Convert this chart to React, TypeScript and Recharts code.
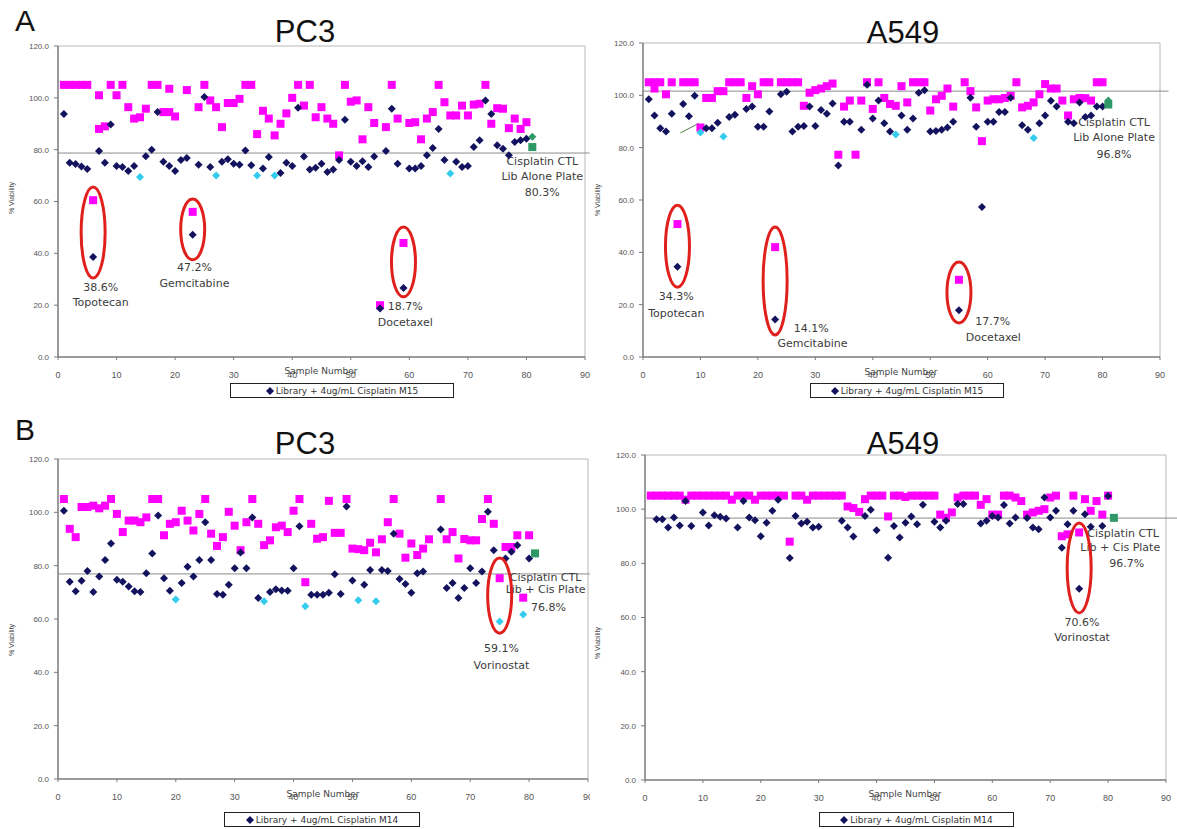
import React from 'react';
import { ScatterChart, Scatter, XAxis, YAxis, ReferenceLine } from 'recharts';

type Pt = [number, number];
type Note = [number, number, string];
type Ell = [number, number, number];

const xTicks = [0, 10, 20, 30, 40, 50, 60, 70, 80, 90];
const yTicks = [0, 20, 40, 60, 80, 100, 120];

// ---------- Panel A : PC3 ----------
const aPc3Library: Pt[] = [[1,105],[2,105],[3,105],[4,105],[5,105],[6,60.5],[7,101],[7,88],[8,89],[9,105],[10,101],[11,105],[12,96.4],[13,92],[14,92.5],[15,95.8],[16,105],[17,105],[18,94.5],[19,94.5],[19,103.5],[20,92.8],[22,103],[23,56],[24,96.4],[25,105],[26,99],[27,96.4],[28,88.7],[29,98],[30,98],[31,99.6],[32,105],[33,105],[34,86],[35,95],[36,92],[37,85.5],[38,90],[39,94],[40,100],[41,105],[42,97],[43,105],[44,92.5],[45,96.4],[46,92],[47,90],[48,77.8],[49,105],[50,98.5],[51,99],[52,84],[53,96.4],[54,90.3],[55,20],[56,88.7],[57,105],[58,92],[59,44],[60,90.3],[61,90.6],[62,84],[63,92],[64,94.5],[65,105],[66,98.3],[67,93.2],[68,93.2],[69,97],[70,93.2],[71,97.4],[72,97.7],[73,105],[74,90],[75,96],[76,95.8],[77,88.3],[78,92],[79,88],[80,90.6]];
const aPc3Cis: Pt[] = [[1,93.8],[2,75],[3,74.5],[4,73.5],[5,72.5],[6,38.6],[7,79.5],[8,75],[9,89.7],[10,73.7],[11,73.3],[12,71.8],[13,73.7],[15,77.5],[16,80],[17,94.5],[18,75.3],[19,73.7],[20,71.8],[21,76],[22,76.8],[23,47.2],[24,74.2],[25,100.3],[26,73.3],[28,75.3],[29,76.3],[30,74.6],[31,74.2],[32,79.7],[33,74],[35,72.7],[36,77.2],[38,71],[39,75],[40,73.7],[41,96.2],[42,77.4],[43,72.3],[44,73],[45,74.6],[46,71.4],[47,72.3],[48,76],[49,91.5],[50,75.3],[51,73.7],[52,75.5],[53,73.3],[54,77.4],[55,18.7],[56,79.5],[57,95.8],[58,74.6],[59,26.6],[60,72.7],[61,72.7],[62,73.7],[63,77.8],[64,80.6],[65,88],[66,76],[68,75.3],[69,73.3],[70,73.7],[71,81],[72,83.6],[73,99],[74,93.8],[75,81.7],[76,80.4],[77,77.8],[78,83],[79,83.6],[80,84.2]];
const aPc3Low: Pt[] = [[14,69.5],[27,70],[34,70],[37,70],[67,70.8]];
const aPc3CtlSq: Pt[] = [[81,81]];
const aPc3CtlDia: Pt[] = [[81,85]];
const aPc3Ell: Ell[] = [[6,30.5,65.6],[23,37.5,61],[59,23.2,50.2]];
const aPc3Notes: Note[] = [[7.3,27,'38.6%'],[7.3,21,'Topotecan'],[23.3,34.7,'47.2%'],[23.3,28.2,'Gemcitabine'],[59.3,19.3,'18.7%'],[59.3,13.5,'Docetaxel'],[82.7,75.5,'Cisplatin CTL'],[82.7,69.6,'Lib Alone Plate'],[82.7,63.4,'80.3%']];
const aPc3Ref = 78.7;

// ---------- Panel A : A549 ----------
const aA549Library: Pt[] = [[1,105],[2,105],[2,102.6],[3,105],[4,100.4],[5,105],[6,50.8],[7,105],[8,105],[9,105],[10,87.7],[11,99],[12,99],[13,101.6],[14,101.6],[15,105],[16,105],[17,105],[18,99],[19,103.5],[20,100.4],[21,105],[22,105],[23,42],[24,105],[25,105],[26,105],[27,105],[28,96],[29,101],[30,102],[31,102.6],[32,103.5],[33,104.5],[34,77.3],[35,95.7],[36,98],[37,77.3],[38,98],[39,105],[40,94.8],[41,105],[42,99],[43,96.7],[44,96],[45,103.5],[46,97.3],[47,105],[48,105],[49,105],[50,94.2],[51,98.5],[52,99.8],[53,102.6],[54,95.7],[55,29.5],[56,105],[57,101.6],[58,95.4],[59,82.5],[60,98],[61,98.5],[62,98.5],[63,99],[64,99.8],[65,105],[66,95.4],[67,96],[68,97.3],[69,100.4],[70,104.3],[71,102.6],[72,102.6],[73,98],[74,92.3],[75,98.5],[76,99],[77,98.9],[78,98],[79,105],[80,105]];
const aA549Cis: Pt[] = [[1,98.5],[2,92.3],[3,87.4],[4,86.2],[5,93],[6,34.5],[7,96.7],[8,92],[9,99.8],[11,87.4],[12,87.4],[13,89.5],[15,91.7],[16,92.6],[18,94.8],[19,95.7],[20,88],[21,88],[22,93.8],[23,14.3],[24,100.4],[25,101.4],[26,86.2],[27,88],[28,88.3],[29,95.7],[30,88.3],[31,94.4],[32,93],[33,96.9],[34,73.2],[35,89.9],[36,89.9],[38,86.8],[39,104],[40,91.1],[41,98],[42,89.3],[43,86.2],[45,92.3],[46,86.8],[47,91.1],[48,101],[49,101.9],[50,86.2],[51,86.4],[52,86.8],[53,87.7],[54,89.9],[55,17.9],[57,99.1],[58,88],[59,57.3],[60,89.9],[61,89.9],[62,93.6],[63,93.6],[64,99.1],[66,88.6],[67,86.8],[69,89.3],[70,92.3],[71,97.9],[72,95.7],[74,89.9],[75,89.3],[76,97.3],[77,91.7],[78,92.3],[79,95.7],[80,95.7]];
const aA549Low: Pt[] = [[10,85.8],[14,84.3],[44,85],[68,83.7]];
const aA549CtlSq: Pt[] = [[81,96.5]];
const aA549CtlDia: Pt[] = [[81,98]];
const aA549Ell: Ell[] = [[6,26.7,58],[23,8.4,49.7],[55,13,36.3]];
const aA549Notes: Note[] = [[5.8,23,'34.3%'],[5.8,16.8,'Topotecan'],[29.3,11,'14.1%'],[29.5,5,'Gemcitabine'],[60.9,13.4,'17.7%'],[61,7.6,'Docetaxel'],[82,89.8,'Cisplatin CTL'],[82,84,'Lib Alone Plate'],[82,77.5,'96.8%']];
const aA549Ref = 101.6;
const aA549Leader: Pt[] = [[6.5,85.6],[9.7,89.3]];

// ---------- Panel B : PC3 ----------
const bPc3Library: Pt[] = [[1,105],[2,93.8],[3,90.7],[4,102],[5,102],[6,102.5],[7,101.5],[8,102.5],[9,105],[10,99.4],[11,92.6],[12,96.9],[13,96.9],[14,96.3],[15,98.1],[16,105],[17,105],[18,91.4],[19,95.7],[20,96.3],[21,100.6],[22,96.9],[23,93.2],[24,99.4],[25,105],[26,92],[27,87.4],[28,90.7],[29,100.2],[30,95],[31,85.8],[32,96.3],[33,105],[34,95.7],[35,87.7],[36,89.5],[37,94.4],[38,95],[39,92.6],[40,100.6],[41,105],[42,73.8],[43,95.7],[44,90.1],[45,90.7],[46,104.3],[47,92.3],[48,92.3],[49,105],[50,86.4],[51,86.2],[52,85.8],[53,88.6],[54,85],[55,89.9],[56,96.3],[57,105],[58,92],[59,83],[60,88.3],[61,84],[62,86.4],[63,89.9],[65,105],[66,89.9],[67,92.6],[68,82.7],[69,90],[70,89.5],[71,89.5],[72,97.5],[73,105],[74,95.7],[75,75.3],[76,87],[77,87],[78,91.4],[79,68],[80,91.4]];
const bPc3Cis: Pt[] = [[1,100.6],[2,74],[3,70.4],[4,74.3],[5,78],[6,70.1],[7,75.9],[8,82.1],[9,88.3],[10,74.7],[11,74],[12,72.2],[13,70.4],[14,70.1],[15,77.2],[16,84.6],[17,98.8],[18,75.3],[19,70.6],[21,73.5],[22,79.6],[23,75.9],[24,82.1],[25,96.3],[26,82.1],[27,69.4],[28,69.1],[29,72.8],[30,79],[31,84.9],[32,79],[33,98.1],[34,67.9],[36,70.1],[37,71.2],[38,70.7],[39,70.6],[40,79],[41,94.8],[43,69.1],[44,69.1],[45,69.1],[46,69.8],[47,76.8],[48,69.4],[49,102.2],[50,74.4],[52,72.8],[53,78.4],[55,78.4],[56,78],[57,92],[58,75],[59,73.1],[60,69.8],[61,77.2],[62,77.8],[65,93.6],[66,71.6],[67,73.5],[68,67.9],[69,71.6],[70,79],[71,73.5],[72,77.8],[73,100.2],[74,85.8],[76,82.7],[77,85.2],[78,87.7],[80,82.7]];
const bPc3Low: Pt[] = [[20,67.3],[35,66.7],[42,64.8],[51,67],[54,66.7],[75,59.1],[79,61.7]];
const bPc3CtlSq: Pt[] = [[81,84.6]];
const bPc3CtlDia: Pt[] = [];
const bPc3Ell: Ell[] = [[75,54.7,82.9]];
const bPc3Notes: Note[] = [[82.8,75.7,'Cisplatin CTL'],[82.8,70.9,'Lib + Cis Plate'],[83.3,64.5,'76.8%'],[75.3,49,'59.1%'],[75.3,42.7,'Vorinostat']];
const bPc3Ref = 76.9;

// ---------- Panel B : A549 ----------
const bA549Library: Pt[] = [[1,105],[2,105],[3,105],[4,105],[5,105],[6,105],[7,103.5],[8,105],[9,105],[10,105],[11,105],[12,105],[13,105],[14,105],[15,103.5],[16,105],[17,105],[18,105],[19,103.5],[20,105],[21,105],[22,105],[23,105],[24,105],[25,88],[26,105],[27,105],[28,103.5],[29,105],[30,105],[31,105],[32,105],[33,105],[34,105],[35,101],[36,100.4],[37,99],[38,103.7],[39,105],[40,105],[41,105],[42,97.3],[43,105],[44,105],[45,104.5],[46,105],[47,105],[48,105],[49,105],[50,105],[51,98],[52,96.8],[53,98.8],[54,104.3],[55,105],[56,105],[57,105],[58,101.6],[59,103.7],[60,98],[61,98],[62,105],[63,105],[64,104.3],[65,103],[66,98],[67,98.8],[68,99.4],[69,100],[70,104.3],[71,105],[72,90],[73,90.7],[74,105],[75,91.4],[76,103.7],[77,99.4],[78,103],[79,98],[80,105]];
const bA549Cis: Pt[] = [[2,96.3],[3,96.3],[4,93.2],[5,96.9],[6,94],[7,103],[8,93.8],[10,98.8],[11,94],[12,97.8],[13,97.2],[14,96.6],[16,93.2],[17,103],[18,96.9],[19,95.9],[20,90],[21,95],[22,99.4],[23,103.5],[25,82],[26,97.5],[27,94.7],[28,95.4],[29,93.2],[30,93.5],[34,95.7],[35,93.2],[36,89.9],[38,97.5],[39,99.8],[40,92.2],[42,82.1],[43,93.8],[44,89.5],[45,95],[46,97.3],[47,94.4],[48,101.6],[50,95.4],[51,93.2],[52,95.7],[54,101.9],[55,101.9],[58,94.7],[59,95.7],[60,97.5],[61,96.9],[62,101.5],[63,94.7],[64,96.9],[66,96.7],[67,93.2],[68,92.6],[69,104.3],[70,96.9],[71,99.4],[72,85.8],[73,94.4],[74,99.4],[75,70.6],[76,98.1],[77,93.5],[79,93.8],[80,104.9]];
const bA549Low: Pt[] = [];
const bA549CtlSq: Pt[] = [[81,96.8]];
const bA549CtlDia: Pt[] = [];
const bA549Ell: Ell[] = [[75,61.7,94.9]];
const bA549Notes: Note[] = [[82.6,91.2,'Cisplatin CTL'],[82.1,85.7,'Lib + Cis Plate'],[83.2,79.8,'96.7%'],[75.5,58.3,'70.6%'],[75.5,52.8,'Vorinostat']];
const bA549Ref = 96.7;

// ---------- styles ----------
const MAGENTA = '#FF00FF';
const NAVY = '#12125E';
const CYAN = '#33CCEE';
const GREEN = '#2E9966';
const RED = '#E0201C';
const FONT = '"Liberation Sans", Arial, sans-serif';
const NOTE_FONT = '"DejaVu Sans", Verdana, sans-serif';

const toPts = (a: Pt[]) => a.map(([x, y]) => ({ x, y }));

const square = (color: string, s: number) => (p: any) =>
  p.cx == null ? <g /> : <rect x={p.cx - s / 2} y={p.cy - s / 2} width={s} height={s} fill={color} />;

const diamond = (color: string, s: number) => (p: any) => {
  if (p.cx == null) return <g />;
  const h = s / 2;
  return (
    <polygon
      points={`${p.cx},${p.cy - h} ${p.cx + h},${p.cy} ${p.cx},${p.cy + h} ${p.cx - h},${p.cy}`}
      fill={color}
    />
  );
};

const noteShape = (p: any) => (
  <text
    x={p.cx}
    y={p.cy}
    textAnchor="middle"
    dominantBaseline="central"
    fontSize={11}
    fontFamily={NOTE_FONT}
    fill="#3c3c3c"
  >
    {p.payload.t}
  </text>
);

const ellipseShape = (ppu: number, rx: number) => (p: any) => (
  <ellipse
    cx={p.cx}
    cy={p.cy}
    rx={rx}
    ry={((p.payload.hi - p.payload.lo) / 2) * ppu}
    fill="none"
    stroke={RED}
    strokeWidth={3}
  />
);

interface PanelCfg {
  left: number;
  top: number;
  width: number;
  height: number;
  margin: { top: number; right: number; bottom: number; left: number };
  lib: Pt[];
  cis: Pt[];
  low: Pt[];
  ctlSq: Pt[];
  ctlDia: Pt[];
  ell: Ell[];
  notes: Note[];
  refY: number;
  refEnd: number;
  leader?: Pt[];
}

const Y_W = 50;
const X_H = 30;

const Panel = ({ c }: { c: PanelCfg }) => {
  const plotH = c.height - c.margin.top - c.margin.bottom - X_H;
  const ppu = plotH / 120;
  return (
    <div style={{ position: 'absolute', left: c.left, top: c.top, width: c.width, height: c.height }}>
      <ScatterChart width={c.width} height={c.height} margin={c.margin}>
        <XAxis
          type="number"
          dataKey="x"
          domain={[0, 90]}
          ticks={xTicks}
          interval={0}
          height={X_H}
          tickSize={3}
          tickMargin={12}
          axisLine={{ stroke: '#7a7a7a', strokeWidth: 1.5 }}
          tickLine={{ stroke: '#7a7a7a' }}
          tick={{ fontSize: 9, fill: '#555', fontFamily: FONT }}
        />
        <YAxis
          type="number"
          dataKey="y"
          domain={[0, 120]}
          ticks={yTicks}
          interval={0}
          width={Y_W}
          tickSize={4}
          tickMargin={5}
          tickFormatter={(v: number) => v.toFixed(1)}
          axisLine={{ stroke: '#7a7a7a', strokeWidth: 1.5 }}
          tickLine={{ stroke: '#7a7a7a' }}
          tick={{ fontSize: 8, fill: '#555', fontFamily: FONT }}
        />
        <ReferenceLine y={120} stroke="#b8b8b8" strokeWidth={1} />
        <ReferenceLine x={90} stroke="#b8b8b8" strokeWidth={1} />
        <ReferenceLine
          segment={[{ x: 0, y: c.refY }, { x: c.refEnd, y: c.refY }]}
          stroke="#8c8c8c"
          strokeWidth={1}
          ifOverflow="visible"
        />
        {c.leader && (
          <ReferenceLine
            segment={c.leader.map(([x, y]) => ({ x, y }))}
            stroke="#4f7d44"
            strokeWidth={1}
            ifOverflow="visible"
          />
        )}
        <Scatter
          data={c.notes.map(([x, y, t]) => ({ x, y, t }))}
          shape={noteShape}
          isAnimationActive={false}
          legendType="none"
        />
        <Scatter data={toPts(c.lib)} shape={square(MAGENTA, 8)} isAnimationActive={false} />
        <Scatter data={toPts(c.cis)} shape={diamond(NAVY, 8)} isAnimationActive={false} />
        <Scatter data={toPts(c.low)} shape={diamond(CYAN, 8)} isAnimationActive={false} />
        <Scatter data={toPts(c.ctlDia)} shape={diamond(GREEN, 8)} isAnimationActive={false} />
        <Scatter data={toPts(c.ctlSq)} shape={square(GREEN, 8)} isAnimationActive={false} />
        <Scatter
          data={c.ell.map(([x, lo, hi]) => ({ x, y: (lo + hi) / 2, lo, hi }))}
          shape={ellipseShape(ppu, 12)}
          isAnimationActive={false}
        />
      </ScatterChart>
    </div>
  );
};

const panels: PanelCfg[] = [
  { left: 0, top: 0, width: 590, height: 405, margin: { top: 46, right: 5, bottom: 18, left: 8 },
    lib: aPc3Library, cis: aPc3Cis, low: aPc3Low, ctlSq: aPc3CtlSq, ctlDia: aPc3CtlDia,
    ell: aPc3Ell, notes: aPc3Notes, refY: aPc3Ref, refEnd: 90.8 },
  { left: 590, top: 0, width: 587, height: 405, margin: { top: 43, right: 17, bottom: 18, left: 3 },
    lib: aA549Library, cis: aA549Cis, low: aA549Low, ctlSq: aA549CtlSq, ctlDia: aA549CtlDia,
    ell: aA549Ell, notes: aA549Notes, refY: aA549Ref, refEnd: 91.5, leader: aA549Leader },
  { left: 0, top: 410, width: 590, height: 419, margin: { top: 49, right: 2, bottom: 20, left: 8 },
    lib: bPc3Library, cis: bPc3Cis, low: bPc3Low, ctlSq: bPc3CtlSq, ctlDia: bPc3CtlDia,
    ell: bPc3Ell, notes: bPc3Notes, refY: bPc3Ref, refEnd: 90.3 },
  { left: 590, top: 410, width: 587, height: 419, margin: { top: 45, right: 11, bottom: 19, left: 5 },
    lib: bA549Library, cis: bA549Cis, low: bA549Low, ctlSq: bA549CtlSq, ctlDia: bA549CtlDia,
    ell: bA549Ell, notes: bA549Notes, refY: bA549Ref, refEnd: 92 },
];

const Txt = ({ x, y, size, children, color = '#111', family = FONT, rotate = 0 }: any) => (
  <div
    style={{
      position: 'absolute',
      left: x,
      top: y,
      transform: `translate(-50%, -50%) rotate(${rotate}deg)`,
      fontSize: size,
      fontFamily: family,
      color,
      whiteSpace: 'nowrap',
      lineHeight: 1,
    }}
  >
    {children}
  </div>
);

const LegendBox = ({ left, top, width, label }: any) => (
  <div
    style={{
      position: 'absolute',
      left,
      top,
      width,
      height: 15,
      boxSizing: 'border-box',
      border: '1px solid #222',
      background: '#fff',
      display: 'flex',
      alignItems: 'center',
      justifyContent: 'center',
      fontSize: 9,
      fontFamily: NOTE_FONT,
      color: '#333',
    }}
  >
    <svg width={8} height={8} style={{ marginRight: 2 }}>
      <polygon points="4,0 8,4 4,8 0,4" fill={NAVY} />
    </svg>
    {label}
  </div>
);

export default function App() {
  return (
    <div style={{ position: 'absolute', left: 0, top: 0, width: 1177, height: 829, background: '#fff', overflow: 'hidden' }}>
      {panels.map((p, i) => (
        <Panel key={i} c={p} />
      ))}
      <Txt x={25} y={21} size={30}>A</Txt>
      <Txt x={25} y={430} size={30}>B</Txt>
      <Txt x={305} y={31} size={31}>PC3</Txt>
      <Txt x={903} y={32} size={31}>A549</Txt>
      <Txt x={305} y={443} size={31}>PC3</Txt>
      <Txt x={903} y={443} size={31}>A549</Txt>

      <Txt x={321} y={371} size={9} color="#444" family={NOTE_FONT}>Sample Number</Txt>
      <Txt x={901} y={372} size={9} color="#444" family={NOTE_FONT}>Sample Number</Txt>
      <Txt x={323} y={794} size={9} color="#444" family={NOTE_FONT}>Sample Number</Txt>
      <Txt x={905} y={794} size={9} color="#444" family={NOTE_FONT}>Sample Number</Txt>

      <Txt x={11} y={198} size={7} color="#444" rotate={-90}>% Viability</Txt>
      <Txt x={597} y={200} size={7} color="#444" rotate={-90}>% Viability</Txt>
      <Txt x={11} y={640} size={7} color="#444" rotate={-90}>% Viability</Txt>
      <Txt x={597} y={643} size={7} color="#444" rotate={-90}>% Viability</Txt>

      <LegendBox left={230} top={383} width={224} label="Library + 4ug/mL Cisplatin M15" />
      <LegendBox left={810} top={383} width={194} label="Library + 4ug/mL Cisplatin M15" />
      <LegendBox left={224} top={812} width={196} label="Library + 4ug/mL Cisplatin M14" />
      <LegendBox left={819} top={812} width={195} label="Library + 4ug/mL Cisplatin M14" />
    </div>
  );
}
